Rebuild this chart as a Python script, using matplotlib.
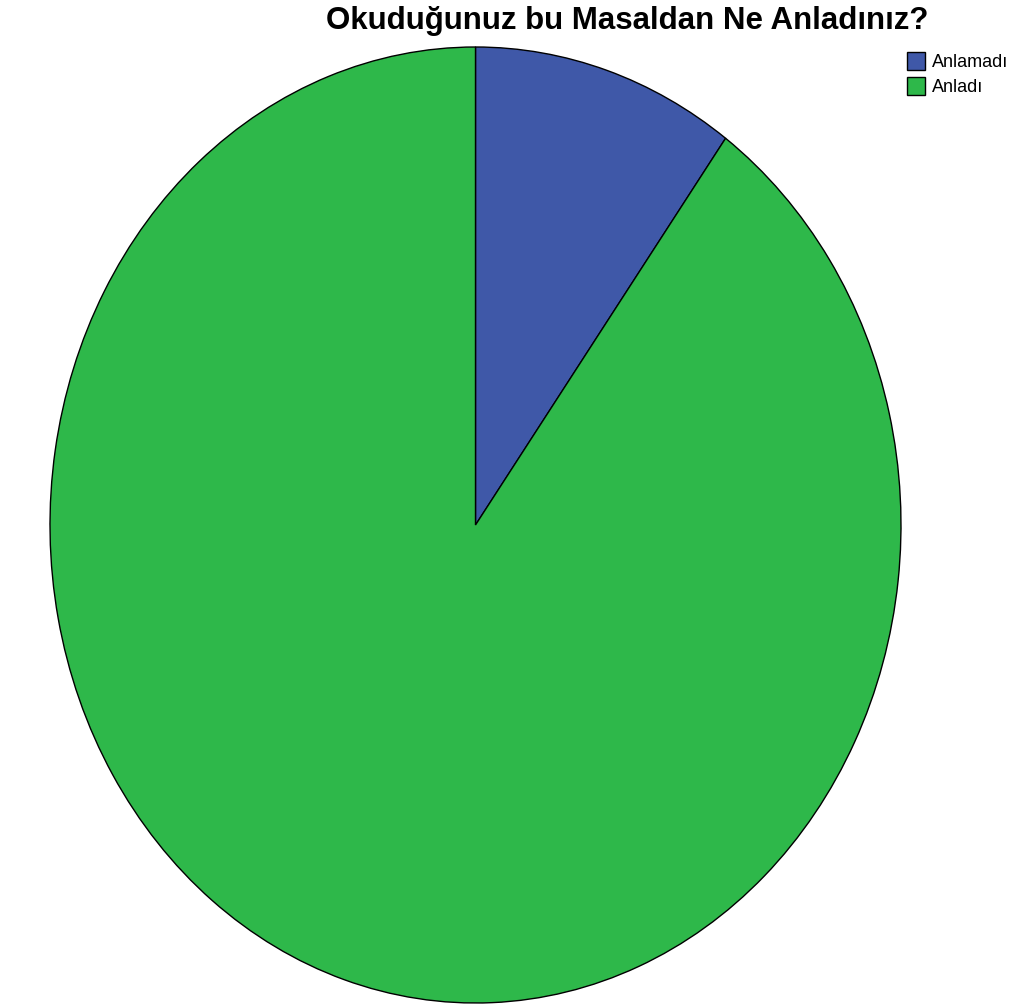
import matplotlib
matplotlib.use('Agg')
import matplotlib.pyplot as plt

labels = ['Anlamadı', 'Anladı']
values = [10, 90]
colors = ['#3f58a8', '#2eb84a']

plt.rcParams['font.family'] = ['Liberation Sans', 'DejaVu Sans']

fig = plt.figure(figsize=(10.19, 10.05), dpi=100)
ax = fig.add_axes([50/1019, 2/1005, 851/1019, 956/1005])
wedges, _ = ax.pie(values, colors=colors, startangle=90, counterclock=False,
                   wedgeprops=dict(edgecolor='black', linewidth=1.0))
ax.set_aspect('auto')
ax.set_xlim(-1.0, 1.0)
ax.set_ylim(-1.0, 1.0)
ax.axis('off')

fig.text(627/1019, 1 - 21/1005, 'Okuduğunuz bu Masaldan Ne Anladınız?',
         ha='center', va='center', fontsize=22.5, fontweight='bold')

leg = fig.legend(wedges, labels, loc='upper left', bbox_to_anchor=(907/1019, 1 - 52/1005),
                 frameon=False, fontsize=13, handlelength=1.0, handleheight=1.15,
                 handletextpad=0.4, labelspacing=0.35, borderpad=0, borderaxespad=0)

fig.savefig('out.png', dpi=100)
